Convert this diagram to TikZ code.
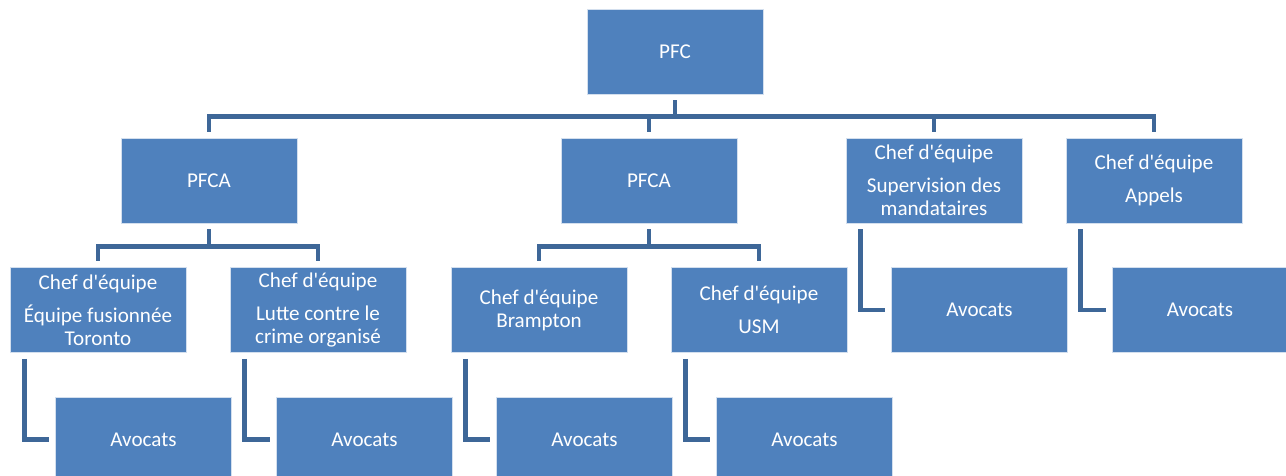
\documentclass[tikz,border=0pt]{standalone}
\usepackage{fontspec}
\setmainfont{Carlito}
\usepackage{tikz}

\definecolor{boxblue}{RGB}{79,129,189}
\definecolor{linkblue}{RGB}{62,103,152}

\tikzset{
    orgbox/.style={rectangle, fill=boxblue, draw=white!75!boxblue, line width=0.5pt,
        text=white, align=center, inner sep=0pt,
        minimum width=3.52cm, minimum height=1.7cm,
        font=\fontsize{12}{13.1}\selectfont},
    link/.style={draw=linkblue, line width=2.8pt, shorten <=0.12cm, shorten >=0.12cm}
}

\begin{document}
\begin{tikzpicture}[x=0.02cm,y=-0.02cm]
    \useasboundingbox (0,0) rectangle (1286,476);
    \clip (0,0) rectangle (1286,476);
    \fill[white] (0,0) rectangle (1286,476);

    % top
    \node[orgbox] (pfc) at (675,51.5) {PFC};

    % second level
    \node[orgbox] (pfcaA)   at (209,180.5) {PFCA};
    \node[orgbox] (pfcaB)   at (649,180.5) {PFCA};
    \node[orgbox] (chefSup) at (934,180.5) {Chef d\textquotesingle équipe\\[5.7pt]Supervision des\\mandataires};
    \node[orgbox] (chefApp) at (1154,180.5) {Chef d\textquotesingle équipe\\[5.7pt]Appels};

    % third level
    \node[orgbox] (chefTor) at (98,310) {Chef d\textquotesingle équipe\\[5.7pt]Équipe fusionnée\\Toronto};
    \node[orgbox] (chefLut) at (318,310) {Chef d\textquotesingle équipe\\[5.7pt]Lutte contre le\\crime organisé};
    \node[orgbox] (chefBra) at (539,310) {Chef d\textquotesingle équipe\\Brampton};
    \node[orgbox] (chefUsm) at (759,310) {Chef d\textquotesingle équipe\\[5.7pt]USM};
    \node[orgbox] (avoSup)  at (979.5,310) {Avocats};
    \node[orgbox] (avoApp)  at (1200,310) {Avocats};

    % bottom row
    \node[orgbox] (avoTor) at (143.5,439.5) {Avocats};
    \node[orgbox] (avoLut) at (364.5,439.5) {Avocats};
    \node[orgbox] (avoBra) at (584.5,439.5) {Avocats};
    \node[orgbox] (avoUsm) at (804.5,439.5) {Avocats};

    % connectors
    \draw[link] (pfc.south) -- ++(0,22) -| (pfcaA.north);
    \draw[link] (pfc.south) -- ++(0,22) -| (pfcaB.north);
    \draw[link] (pfc.south) -- ++(0,22) -| (chefSup.north);
    \draw[link] (pfc.south) -- ++(0,22) -| (chefApp.north);

    \draw[link] (pfcaA.south) -- ++(0,23) -| (chefTor.north);
    \draw[link] (pfcaA.south) -- ++(0,23) -| (chefLut.north);
    \draw[link] (pfcaB.south) -- ++(0,23) -| (chefBra.north);
    \draw[link] (pfcaB.south) -- ++(0,23) -| (chefUsm.north);

    \draw[link] ([xshift=0.3cm]chefTor.south west) |- (avoTor.west);
    \draw[link] ([xshift=0.3cm]chefLut.south west) |- (avoLut.west);
    \draw[link] ([xshift=0.3cm]chefBra.south west) |- (avoBra.west);
    \draw[link] ([xshift=0.3cm]chefUsm.south west) |- (avoUsm.west);
    \draw[link] ([xshift=0.3cm]chefSup.south west) |- (avoSup.west);
    \draw[link] ([xshift=0.3cm]chefApp.south west) |- (avoApp.west);
\end{tikzpicture}
\end{document}
